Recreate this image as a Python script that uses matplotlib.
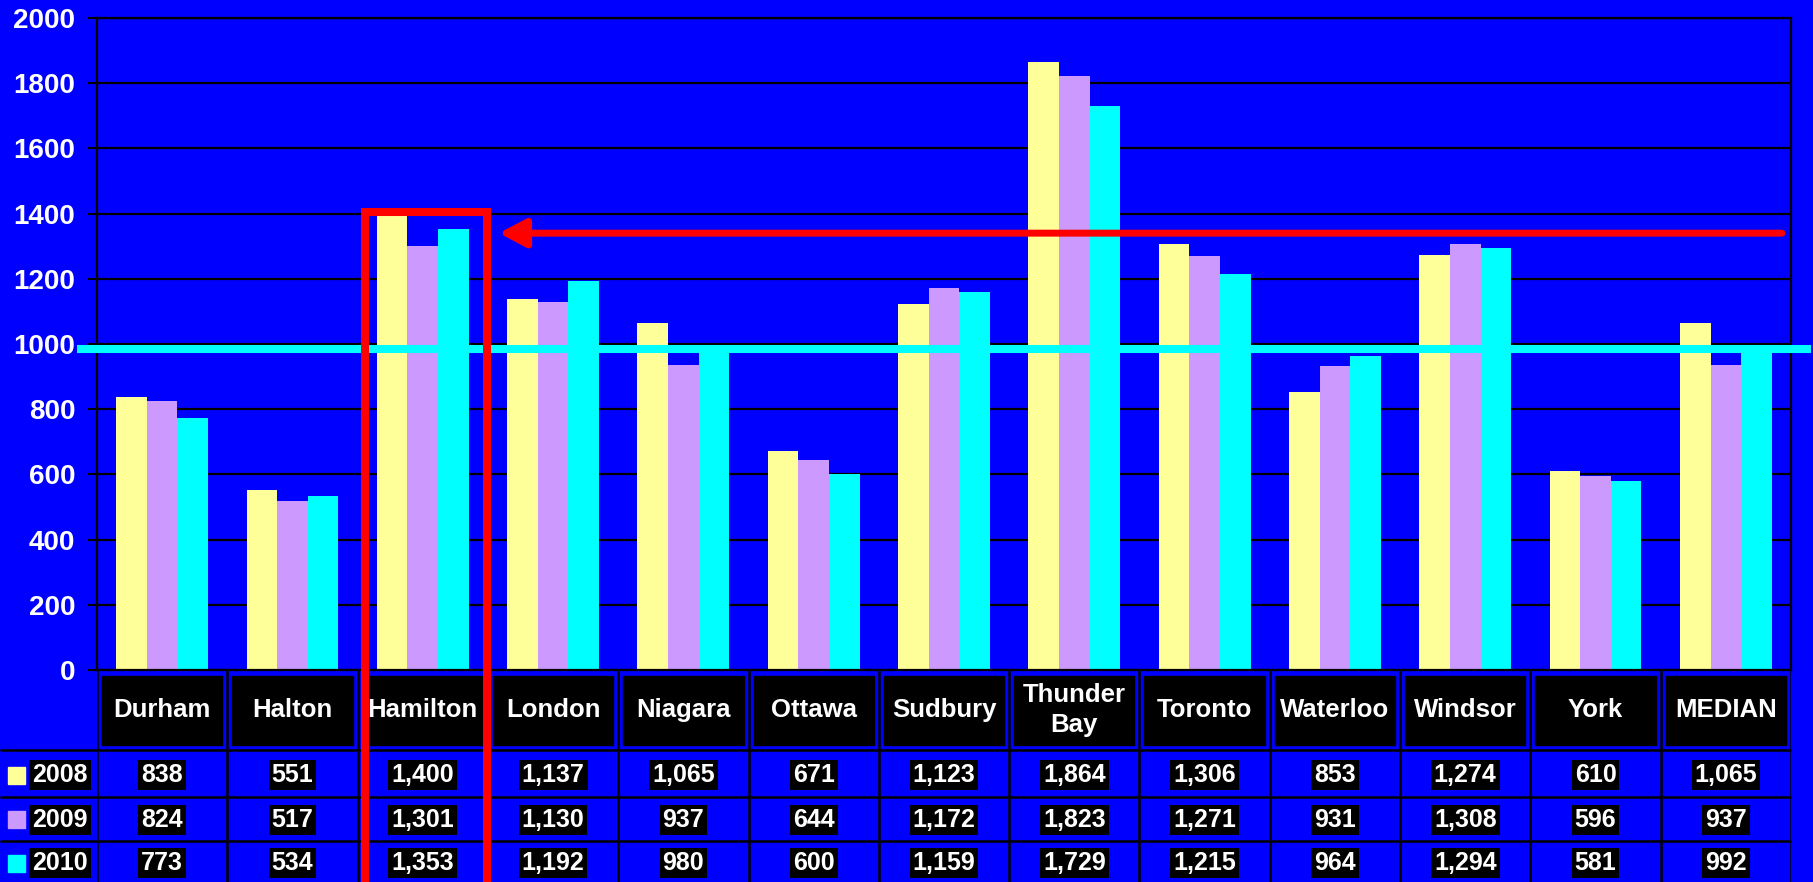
import numpy as np
import matplotlib
matplotlib.use('Agg')
import matplotlib.pyplot as plt
from matplotlib.patches import Rectangle

regions = ['Durham', 'Halton', 'Hamilton', 'London', 'Niagara', 'Ottawa', 'Sudbury',
           'Thunder\nBay', 'Toronto', 'Waterloo', 'Windsor', 'York', 'MEDIAN']
years = ['2008', '2009', '2010']
v2008 = [838, 551, 1400, 1137, 1065, 671, 1123, 1864, 1306, 853, 1274, 610, 1065]
v2009 = [824, 517, 1301, 1130, 937, 644, 1172, 1823, 1271, 931, 1308, 596, 937]
v2010 = [773, 534, 1353, 1192, 980, 600, 1159, 1729, 1215, 964, 1294, 581, 992]
ref_level = 985      # cyan horizontal line
arrow_level = 1340   # red arrow
box_top = 1405       # top of red highlight box
highlight = 'Hamilton'

colors = ['#FFFF99', '#CC99FF', '#00FFFF']
BLUE = '#0000FF'

plt.rcParams['font.family'] = ['Liberation Sans', 'DejaVu Sans']
plt.rcParams['font.weight'] = 'bold'

# figure / layout in pixels
W, H = 1813, 882
L, R, T, B = 97, 1791, 18, 670
fig = plt.figure(figsize=(W / 100, H / 100), dpi=100, facecolor=BLUE)
ax = fig.add_axes([L / W, 1 - B / H, (R - L) / W, (B - T) / H], zorder=2)
ax.set_facecolor(BLUE)

n = len(regions)
cw = (R - L) / n


def px(xp):
    # figure pixel column -> data x
    return (xp - L) / cw - 0.5


x = np.arange(n)
bw = 0.235
series = [v2008, v2009, v2010]
for k, vals in enumerate(series):
    ax.bar(x + (k - 1) * bw, vals, bw, color=colors[k], zorder=2)

ax.set_xlim(-0.5, n - 0.5)
ax.set_ylim(0, 2000)
ax.set_yticks(range(0, 2001, 200))
ax.set_xticks([])
ax.yaxis.grid(True, color='black', lw=1.6)
ax.set_axisbelow(True)
ax.tick_params(axis='y', labelcolor='white', color='black', labelsize=20,
               length=6.5, width=1.5, pad=9)
for s in ax.spines.values():
    s.set_color('black')
    s.set_linewidth(1.6)

# cyan reference line
ax.plot([px(77), px(1811)], [ref_level, ref_level], color='#00FFFF', lw=5.8,
        clip_on=False, zorder=3, solid_capstyle='butt')

# red highlight box and arrow
hx = regions.index(highlight)
bl, br = hx - 0.443, hx + 0.493
ax.plot([bl, bl, br, br], [-800, box_top, box_top, -800], color='red', lw=5.8,
        clip_on=False, zorder=5, solid_joinstyle='miter')
ax.annotate('', xy=(hx + 0.585, arrow_level), xytext=(px(1782), arrow_level),
            arrowprops=dict(arrowstyle='-|>,head_length=1.6,head_width=0.85',
                            color='red', lw=5, mutation_scale=10,
                            shrinkA=0, shrinkB=0),
            annotation_clip=False, zorder=5)

# data table below the chart
tab = fig.add_axes([L / W, 0, (R - L) / W, (H - B) / H], zorder=1)
tab.set_xlim(-0.5, n - 0.5)
tab.set_ylim(H, B)
tab.axis('off')

inset = 5 / cw
for i, name in enumerate(regions):
    tab.add_patch(Rectangle((i - 0.5 + inset, 676), 1 - 2 * inset, 69,
                            color='black', zorder=2))
    tab.text(i, 710, name, ha='center', va='center', color='white',
             fontsize=18.5, fontweight='bold', linespacing=1.3, zorder=3)

tab.vlines(np.arange(n + 1) - 0.5, B, H, color='black', lw=1.8, zorder=1)
tab.hlines([750, 797, 841], px(0), n - 0.5, color='black', lw=1.8,
           clip_on=False, zorder=1)

row_centers = [775, 819.5, 863]
for r, (yr, vals) in enumerate(zip(years, series)):
    yc = row_centers[r]
    tab.add_patch(Rectangle((px(8), yc - 8.5), 17 / cw, 17, color=colors[r],
                            clip_on=False, zorder=2))
    tab.text(px(32), yc, yr, ha='left', va='center', color='white',
             fontsize=18, fontweight='bold', clip_on=False, zorder=3,
             bbox=dict(boxstyle='square,pad=0.12', fc='black', ec='none'))
    for i, v in enumerate(vals):
        tab.text(i, yc, f'{v:,}', ha='center', va='center', color='white',
                 fontsize=18, fontweight='bold', zorder=3,
                 bbox=dict(boxstyle='square,pad=0.12', fc='black', ec='none'))

fig.savefig('out.png', dpi=100, facecolor=BLUE)
